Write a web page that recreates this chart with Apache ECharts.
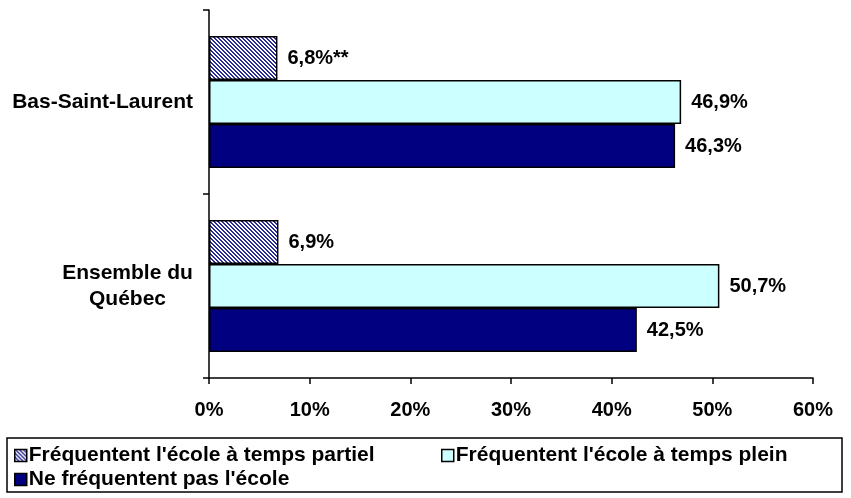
<!DOCTYPE html>
<html><head><meta charset="utf-8">
<script src="https://cdn.jsdelivr.net/npm/echarts@6/dist/echarts.min.js"></script>
<style>html,body{margin:0;padding:0;background:#fff}#c{width:851px;height:498px}</style>
</head><body><div id="c"></div>
<script>
const categories = ['Bas-Saint-Laurent', 'Ensemble du\nQuébec'];
const seriesNames = ["Fréquentent l'école à temps partiel", "Fréquentent l'école à temps plein", "Ne fréquentent pas l'école"];
const partiel = [6.8, 6.9];
const partielNotes = ['**', ''];
const plein = [46.9, 50.7];
const nePas = [46.3, 42.5];
const xTicks = [0, 10, 20, 30, 40, 50, 60];

function hatch() {
  const c = document.createElement('canvas');
  c.width = 4; c.height = 4;
  const g = c.getContext('2d');
  g.fillStyle = '#ffffff'; g.fillRect(0, 0, 4, 4);
  g.fillStyle = '#2a2a96';
  for (let i = 0; i < 4; i++) { g.fillRect(i, i, 1, 1); g.fillRect((i + 1) % 4, i, 1, 1); }
  return c;
}
const FONT = 'Liberation Sans, Arial, sans-serif';
const fmt = v => v.toFixed(1).replace('.', ',') + '%';
const labelBase = { show: true, position: 'right', distance: 10, color: '#000', fontFamily: FONT, fontWeight: 'bold', fontSize: 20 };
const border = { borderColor: '#000', borderWidth: 1.5 };
const legendText = { color: '#000', fontFamily: FONT, fontWeight: 'bold', fontSize: 21, padding: [0, 0, 0, -3] };
const legendLefts = [14, 441, 14];
const legendTops = [445, 445, 469];

const chart = echarts.init(document.getElementById('c'));
chart.setOption({
  animation: false,
  grid: { left: 209, right: 38, top: 10, bottom: 120, containLabel: false },
  xAxis: {
    type: 'value', min: xTicks[0], max: xTicks[xTicks.length - 1], interval: 10,
    splitLine: { show: false },
    axisLine: { show: true, lineStyle: { color: '#000', width: 1.5 } },
    axisTick: { show: true, length: 6, lineStyle: { color: '#000', width: 1.5 } },
    axisLabel: { formatter: v => v + '%', color: '#000', fontFamily: FONT, fontWeight: 'bold', fontSize: 20, margin: 22 }
  },
  yAxis: {
    type: 'category', inverse: true, data: categories,
    axisLine: { show: true, lineStyle: { color: '#000', width: 1.5 } },
    axisTick: { show: true, length: 6, lineStyle: { color: '#000', width: 1.5 } },
    axisLabel: {
      color: '#000', fontFamily: FONT, fontWeight: 'bold', fontSize: 21, margin: 16, lineHeight: 26,
      formatter: v => v.indexOf('\n') >= 0 ? v.split('\n').map(s => '{c|' + s + '}').join('\n') : v,
      rich: { c: { width: 131, align: 'center', color: '#000', fontFamily: FONT, fontWeight: 'bold', fontSize: 21, lineHeight: 26 } }
    }
  },
  legend: seriesNames.map((n, i) => ({
    data: [n], left: legendLefts[i], top: legendTops[i], padding: 0, itemWidth: 12, itemHeight: 12,
    icon: 'rect', itemStyle: border, textStyle: legendText
  })),
  graphic: [{ type: 'rect', shape: { x: 7, y: 438, width: 835, height: 54 }, style: { fill: 'none', stroke: '#000', lineWidth: 1.5 }, silent: true }],
  series: [
    { name: seriesNames[0], type: 'bar', barWidth: 44, barGap: '0%', data: partiel,
      itemStyle: Object.assign({ color: { image: hatch(), repeat: 'repeat' } }, border),
      label: Object.assign({ formatter: p => fmt(p.value) + partielNotes[p.dataIndex] }, labelBase) },
    { name: seriesNames[1], type: 'bar', barWidth: 44, barGap: '0%', data: plein,
      itemStyle: Object.assign({ color: '#CCFFFF' }, border),
      label: Object.assign({ formatter: p => fmt(p.value) }, labelBase) },
    { name: seriesNames[2], type: 'bar', barWidth: 44, barGap: '0%', data: nePas,
      itemStyle: Object.assign({ color: '#000080' }, border),
      label: Object.assign({ formatter: p => fmt(p.value) }, labelBase) }
  ]
});
</script></body></html>
